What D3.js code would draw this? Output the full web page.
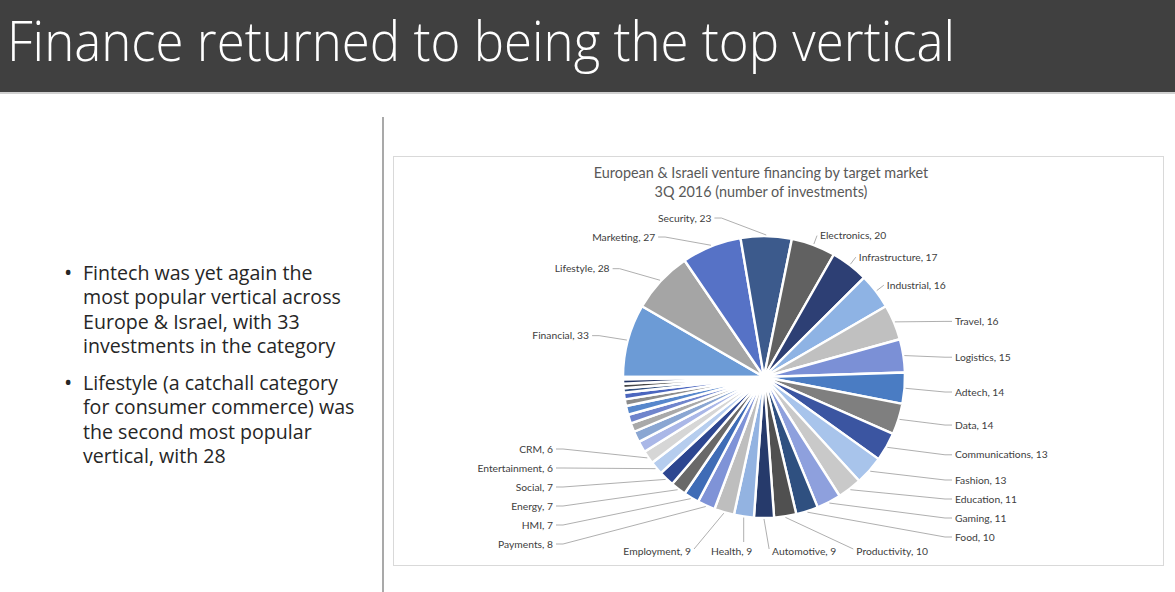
<!DOCTYPE html>
<html>
<head>
<meta charset="utf-8">
<script src="https://cdn.jsdelivr.net/npm/d3@7"></script>
<style>
  body { margin: 0; background: #fff; }
  svg { display: block; }
</style>
</head>
<body>
<svg id="slide" width="1175" height="592"></svg>
<script>
// slide texts
const slideTitle = "Finance returned to being the top vertical";
const bullets = [
  ["Fintech was yet again the", "most popular vertical across", "Europe & Israel, with 33", "investments in the category"],
  ["Lifestyle (a catchall category", "for consumer commerce) was", "the second most popular", "vertical, with 28"]
];
const chartTitle = ["European & Israeli venture financing by target market", "3Q 2016 (number of investments)"];

// pie slices, clockwise from 9 o'clock (last 11 have no label in the chart)
const markets = ["Financial", "Lifestyle", "Marketing", "Security", "Electronics", "Infrastructure",
  "Industrial", "Travel", "Logistics", "Adtech", "Data", "Communications", "Fashion", "Education",
  "Gaming", "Food", "Productivity", "Automotive", "Health", "Employment", "Payments", "HMI",
  "Energy", "Social", "Entertainment", "CRM",
  "Other 1", "Other 2", "Other 3", "Other 4", "Other 5", "Other 6", "Other 7", "Other 8",
  "Other 9", "Other 10", "Other 11"];
const investments = [33, 28, 27, 23, 20, 17, 16, 16, 15, 14, 14, 13, 13, 11, 11, 10, 10, 9, 9, 9,
  8, 7, 7, 7, 6, 6,
  5, 5, 4, 4, 4, 3, 3, 2, 2, 2, 1];
const labelledCount = 26;

const palette = [
  "#6c9bd6", "#a5a5a5", "#5672c6", "#3c5a8c", "#616161", "#2d3f74",
  "#8eb3e4", "#c0c0c0", "#7b90d6", "#4a7cc3", "#7f7f7f", "#3b55a1",
  "#a8c4eb", "#c9c9c9", "#8ea0dd", "#2f5080", "#505050", "#263a6b",
  "#93b3e1", "#bebebe", "#7f93d7", "#3f6cb6", "#696969", "#2d4690",
  "#b6cdee", "#d6d6d6", "#aab7e7", "#8aa6d2", "#a9a9a9", "#6f84cc",
  "#5787cc", "#8c8c8c", "#4b66bf", "#33507f", "#474747", "#233566",
  "#c7d8f2"
];

const svg = d3.select("#slide");
const W = 1175, H = 592;

// title bar
svg.append("rect").attr("x", 0).attr("y", 0).attr("width", W).attr("height", 92).attr("fill", "#404040");
svg.append("rect").attr("x", 0).attr("y", 92).attr("width", W).attr("height", 2).attr("fill", "#d0d0d0");
svg.append("text")
  .attr("x", 7).attr("y", 61)
  .attr("font-family", "'Open Sans', 'Noto Sans', sans-serif")
  .attr("font-weight", 300)
  .attr("font-size", 55)
  .attr("textLength", 948)
  .attr("lengthAdjust", "spacingAndGlyphs")
  .attr("fill", "#fff")
  .text(slideTitle);

// bullets
const bulletG = svg.append("g")
  .attr("font-family", "'Open Sans', 'Noto Sans', sans-serif")
  .attr("font-size", 19.6)
  .attr("fill", "#262626");
bullets.forEach((lines, b) => {
  const y0 = 280 + b * 110;
  bulletG.append("text").attr("x", 64).attr("y", y0).attr("font-size", 22).text("•");
  lines.forEach((l, k) => {
    bulletG.append("text").attr("x", 83).attr("y", y0 + k * 24.4).text(l);
  });
});

// divider
svg.append("line").attr("x1", 383).attr("x2", 383).attr("y1", 117).attr("y2", H)
  .attr("stroke", "#8c8c8c").attr("stroke-width", 1.5);

// chart frame
svg.append("rect").attr("x", 393.5).attr("y", 156.5).attr("width", 770).attr("height", 409)
  .attr("fill", "#fff").attr("stroke", "#d9d9d9");

svg.append("g").selectAll("text").data(chartTitle).join("text")
  .attr("x", 761).attr("y", (d, i) => 178 + i * 19)
  .attr("text-anchor", "middle")
  .attr("font-family", "Lato, 'Open Sans', sans-serif")
  .attr("font-size", 14.4)
  .attr("fill", "#595959")
  .text(d => d);

// pie
const cx = 764, cy = 377, R = 141;
const rows = markets.map((m, i) => ({ market: m, value: investments[i] }));
const color = d3.scaleOrdinal().domain(markets).range(palette);
const pie = d3.pie().sort(null).value(d => d.value)
  .startAngle(-Math.PI / 2).endAngle(1.5 * Math.PI);
const arcs = pie(rows);
const arc = d3.arc().innerRadius(0).outerRadius(R);

const g = svg.append("g").attr("transform", `translate(${cx},${cy})`);
g.selectAll("path").data(arcs).join("path")
  .attr("d", arc)
  .attr("fill", d => color(d.data.market))
  .attr("stroke", "#fff")
  .attr("stroke-width", 2.4)
  .attr("stroke-linejoin", "round");

// labels
const toDeg = a => ((a * 180 / Math.PI) % 360 + 360) % 360;
const labels = arcs.slice(0, labelledCount).map(d => {
  const a = (d.startAngle + d.endAngle) / 2;
  const deg = toDeg(a);
  const sx = Math.sin(a), sy = -Math.cos(a);
  const px = cx + (R + 10) * sx, py = cy + (R + 10) * sy;
  const o = { text: `${d.data.market}, ${d.data.value}`, ex: cx + (R + 1) * sx, ey: cy + (R + 1) * sy, y: py };
  if (deg >= 5 && deg < 60) { o.zone = "right"; o.x = px + 3; o.anchor = "start"; }
  else if (deg >= 60 && deg < 165) { o.zone = "right"; o.x = cx + R + 50; o.y = py + 3; o.anchor = "start"; }
  else if (deg >= 165 && deg < 200) { o.zone = "bottom"; o.x = px; o.y = cy + R + 33; o.anchor = "middle"; }
  else if (deg >= 200 && deg < 250) { o.zone = "left"; o.x = cx - R - 70; o.anchor = "end"; }
  else {
    o.zone = "left";
    o.x = px - 20 - 35 * Math.abs(Math.cos(a));
    o.y = cy + (R + 18) * sy;
    o.anchor = "end";
  }
  return o;
});

const labelG = svg.append("g")
  .attr("font-family", "Lato, 'Open Sans', sans-serif")
  .attr("font-size", 10.3)
  .attr("fill", "#404040");
const texts = labelG.selectAll("text").data(labels).join("text")
  .attr("text-anchor", d => d.anchor)
  .attr("dy", "0.35em")
  .text(d => d.text);
texts.each(function (d) { d.w = this.getComputedTextLength(); });

function spreadY(items, gap, maxY) {
  items.sort((a, b) => a.y - b.y);
  for (let k = 1; k < items.length; k++)
    if (items[k].y < items[k - 1].y + gap) items[k].y = items[k - 1].y + gap;
  const n = items.length;
  if (n && items[n - 1].y > maxY) {
    items[n - 1].y = maxY;
    for (let k = n - 2; k >= 0; k--)
      if (items[k].y > items[k + 1].y - gap) items[k].y = items[k + 1].y - gap;
  }
}
spreadY(labels.filter(d => d.zone === "right"), 19, cy + R + 19);
spreadY(labels.filter(d => d.zone === "left"), 19, cy + R + 26);

// bottom row: spread horizontally around the mean position
const bottom = labels.filter(d => d.zone === "bottom").sort((a, b) => a.x - b.x);
const gapX = 20;
const total = d3.sum(bottom, d => d.w) + gapX * (bottom.length - 1);
let run = d3.mean(bottom, d => d.x) - total / 2 + 22;
bottom.forEach(d => { d.x = run + d.w / 2; run += d.w + gapX; });

texts.attr("x", d => d.x).attr("y", d => d.y);

function leader(d) {
  if (d.zone === "right") {
    return d.x - d.ex > 15
      ? [[d.ex, d.ey], [d.x - 10, d.y], [d.x - 3, d.y]]
      : [[d.ex, d.ey], [d.x - 3, d.y]];
  }
  if (d.zone === "left") {
    return [[d.ex, d.ey], [d.x + 10, d.y], [d.x + 3, d.y]];
  }
  const left = d.x - d.w / 2, right = d.x + d.w / 2;
  if (d.ex >= left && d.ex <= right) return [[d.ex, d.ey], [d.ex, d.y - 9]];
  if (d.ex < left) return [[d.ex, d.ey], [left - 3, d.y - 2]];
  return [[d.ex, d.ey], [right + 3, d.y - 2]];
}

svg.insert("g", "g:last-of-type")
  .selectAll("path").data(labels).join("path")
  .attr("d", d => d3.line()(leader(d)))
  .attr("fill", "none")
  .attr("stroke", "#a6a6a6")
  .attr("stroke-width", 0.9);
</script>
</body>
</html>
